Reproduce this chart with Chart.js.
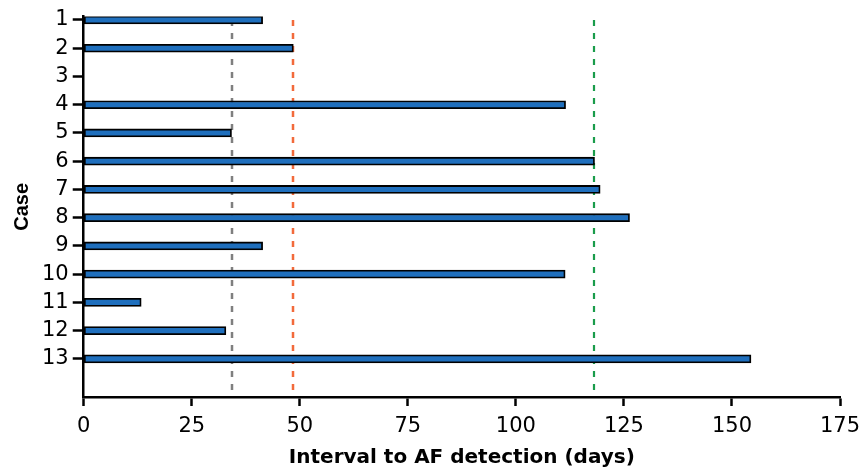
<!DOCTYPE html>
<html lang="en">
<head>
    <meta charset="UTF-8">
    <title>Interval to AF detection</title>
    <script src="https://cdn.jsdelivr.net/npm/chart.js@4.4.1/dist/chart.umd.min.js"></script>
    <style>
        html, body { margin: 0; padding: 0; background: #fff; }
    </style>
</head>
<body>
    <canvas id="afChart" width="860" height="469"></canvas>
    <script>
        // Data
        const cases = [1, 2, 3, 4, 5, 6, 7, 8, 9, 10, 11, 12, 13];
        const intervalDays = [41.4, 48.5, null, 111.5, 34.2, 118.2, 119.5, 126.3, 41.4, 111.4, 13.3, 32.9, 154.4];
        const xTicks = [0, 25, 50, 75, 100, 125, 150, 175];

        // dashed reference lines (days)
        const refValues = [34.3, 48.4, 118];
        const refColors = ['#7f7f7f', '#f26a3b', '#1a9c4b'];
        const refWidths = [2.5, 2.5, 2.2];

        // the source figure's text is a wide-set Helvetica, DejaVu is the closest width
        const wideFont = '"DejaVu Sans", Verdana, sans-serif';
        const narrowFont = '"Liberation Sans", Arial, Helvetica, sans-serif';

        // draws the vertical dashed lines using the x scale
        const refLinesPlugin = {
            id: 'refLines',
            beforeDatasetsDraw(chart) {
                const { ctx, scales: { x, y } } = chart;
                ctx.save();
                ctx.setLineDash([6, 7]);
                refValues.forEach((v, i) => {
                    const px = Math.round(x.getPixelForValue(v));
                    ctx.strokeStyle = refColors[i];
                    ctx.lineWidth = refWidths[i];
                    ctx.beginPath();
                    ctx.moveTo(px, y.getPixelForValue(cases[0]));
                    ctx.lineTo(px, y.bottom);
                    ctx.stroke();
                });
                ctx.restore();
            }
        };

        new Chart(document.getElementById('afChart'), {
            type: 'bar',
            data: {
                datasets: [{
                    label: 'Interval to AF detection',
                    data: cases.map((c, i) => ({ x: intervalDays[i], y: c })),
                    backgroundColor: '#1f6fbd',
                    borderColor: '#000',
                    borderWidth: 1.8,
                    borderSkipped: false,
                    barThickness: 8
                }]
            },
            options: {
                indexAxis: 'y',
                responsive: false,
                animation: false,
                layout: { padding: { left: 10, right: 10, top: 14, bottom: 0 } },
                plugins: {
                    legend: { display: false },
                    tooltip: { enabled: false }
                },
                scales: {
                    x: {
                        type: 'linear',
                        min: 0,
                        max: 175,
                        afterBuildTicks: axis => { axis.ticks = xTicks.map(v => ({ value: v })); },
                        // fixed room under the plot, and only half the last label on the right
                        afterFit: axis => { axis.height = 72; axis.paddingRight = 20; },
                        grid: {
                            display: true,
                            drawOnChartArea: false,
                            drawTicks: true,
                            tickLength: 9,
                            tickWidth: 2.5,
                            tickColor: '#000'
                        },
                        border: { display: true, color: '#000', width: 2.5 },
                        ticks: {
                            color: '#000',
                            font: { family: wideFont, size: 21, lineHeight: 1.1 },
                            padding: 8.5,
                            maxRotation: 0,
                            autoSkip: false
                        },
                        title: {
                            display: true,
                            text: 'Interval to AF detection (days)',
                            color: '#000',
                            font: { family: wideFont, size: 20, weight: 'bold', lineHeight: 1.1 },
                            padding: { top: 0, bottom: 0 }
                        }
                    },
                    y: {
                        type: 'linear',
                        reverse: true,
                        offset: false,
                        min: 0.88,
                        max: 14.35,
                        afterBuildTicks: axis => { axis.ticks = cases.map(v => ({ value: v })); },
                        grid: {
                            display: true,
                            offset: false,
                            drawOnChartArea: false,
                            drawTicks: true,
                            tickLength: 11,
                            tickWidth: 2.5,
                            tickColor: '#000'
                        },
                        border: { display: true, color: '#000', width: 2.5 },
                        ticks: {
                            color: '#000',
                            font: { family: wideFont, size: 21 },
                            padding: 4,
                            autoSkip: false,
                            callback: v => String(v)
                        },
                        title: {
                            display: true,
                            text: 'Case',
                            color: '#000',
                            font: { family: narrowFont, size: 20, weight: 'bold' },
                            padding: { top: 0, bottom: 4 }
                        }
                    }
                }
            },
            plugins: [refLinesPlugin]
        });
    </script>
</body>
</html>
